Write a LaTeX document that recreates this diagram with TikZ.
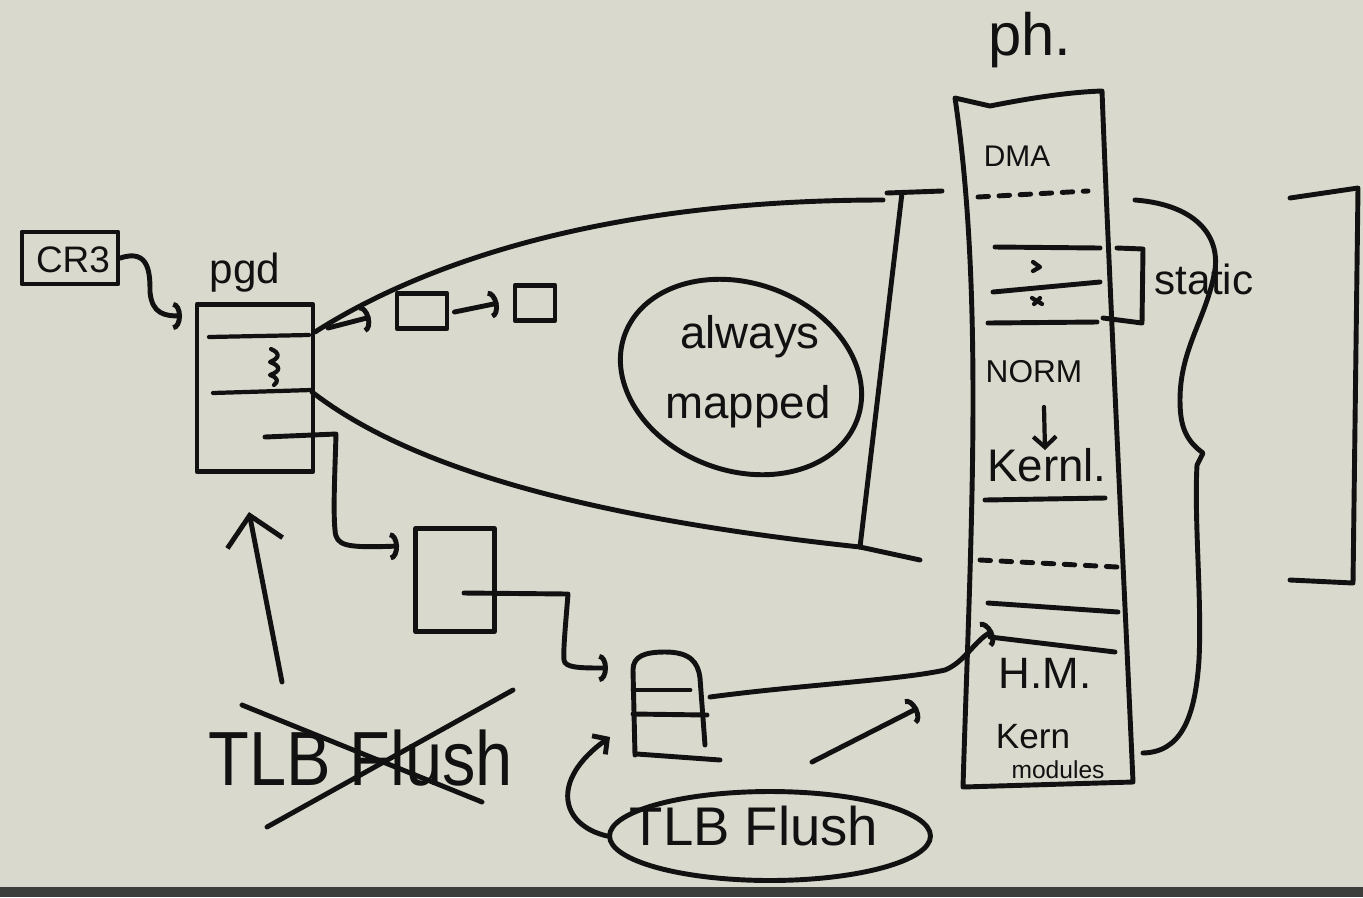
\documentclass[tikz,border=0pt]{standalone}
\usepackage{fontspec}
\setmainfont{Liberation Sans}
\usetikzlibrary{arrows.meta,shapes.geometric,calc}
\definecolor{bg}{HTML}{DAD9CE}
\definecolor{barc}{HTML}{3C3E3B}
\definecolor{ink}{HTML}{111111}
\newcommand{\hwsize}[1]{\fontsize{#1}{#1}\selectfont}
\begin{document}
\begin{tikzpicture}[x=0.02cm,y=-0.02cm,line cap=round,line join=round,
  ink/.style={draw=ink,line width=2.8pt},
  thin/.style={draw=ink,line width=2.4pt},
  hook/.style={-{Arc Barb[length=5pt,width=16pt]}},
  vee/.style={-{Straight Barb[length=16pt,width=32pt]}},
  smallvee/.style={-{Straight Barb[length=6pt,width=13pt]}},
  lbl/.style={inner sep=0pt,anchor=base,text=ink},
  boxnode/.style={draw=ink,line width=2.8pt,inner sep=0pt},
  dashline/.style={draw=ink,line width=2.8pt,dash pattern=on 6pt off 6pt}]
\fill[bg] (0,0) rectangle (1363,897);
\fill[barc] (0,887) rectangle (1363,897);
\useasboundingbox (0,0) rectangle (1363,897);

% ---------------- CR3 and pgd ----------------
\node[boxnode,minimum width=1.92cm,minimum height=1.04cm] (cr3) at (70,258) {};
\node[lbl,font=\hwsize{21}] (cr3t) at (73,272) {CR3};
\node[lbl,font=\hwsize{24}] (pgdt) at (245,283) {pgd};
\node[boxnode,minimum width=2.32cm,minimum height=3.34cm] (pgd) at (255,388) {};
\draw[thin] (209,337) -- (309,335);
\draw[thin] (213,393) -- (311,390);
\draw[thin] (271,349) .. controls (280,353) and (280,358) .. (270,362)
  .. controls (281,366) and (281,371) .. (270,375) .. controls (279,378) and (278,382) .. (274,385);
\coordinate (pgdin) at (182,316);
\draw[ink,hook] (cr3.east) .. controls (150,248) and (150,275) .. (150,292)
  .. controls (152,314) and (165,316) .. (pgdin);

% ---------------- chain of small tables ----------------
\node[boxnode,minimum width=1.0cm,minimum height=0.7cm] (c1) at (422,311) {};
\node[boxnode,minimum width=0.8cm,minimum height=0.7cm] (c2) at (535,303) {};
\coordinate (r1) at (328,328);
\draw[ink,hook] (r1) -- ($(c1.west)+(-24,6)$);
\draw[ink,hook] ($(c1.east)+(5,1)$) -- ($(c2.west)+(-14,0)$);

% ---------------- funnel ----------------
\coordinate (fa) at (883,200);
\coordinate (fb) at (860,547);
\draw[ink] (315,332) .. controls (420,265) and (600,200) .. (fa);
\draw[ink] (312,392) .. controls (400,460) and (560,515) .. (fb);
\draw[ink] (887,193) -- (942,191);
\draw[ink] (902,193) -- (fb);
\draw[ink] (fb) -- (920,560);

% ---------------- always mapped ----------------
\node[draw=ink,line width=2.8pt,ellipse,minimum width=4.95cm,minimum height=3.75cm,rotate=-20] (am) at (741,377) {};
\node[lbl,font=\hwsize{26}] (amt1) at (750,348) {always};
\node[lbl,font=\hwsize{26}] (amt2) at (748,418) {mapped};

% ---------------- second and third level ----------------
\node[boxnode,minimum width=1.58cm,minimum height=2.06cm] (b2) at (455,580) {};
\draw[ink,hook] (265,437) -- (336,434) .. controls (335,470) and (333,510) .. (335,530)
  .. controls (336,546) and (345,548) .. ($(b2.west)+(-14,-34)$);
\coordinate (b3) at (669,705);
\draw[ink] (635,755) -- (633,670) .. controls (633,656) and (645,652) .. (665,652)
  .. controls (690,652) and (698,662) .. (700,678) -- (705,745);
\draw[ink] (637,754) -- (720,760);
\draw[ink] (633,690) -- (690,690);
\draw[ink] (633,714) -- (707,715);
\draw[ink,hook] (464,593) -- (568,594) .. controls (566,620) and (563,650) .. (564,660)
  .. controls (565,668) and (580,668) .. ($(b3)+(-61,-37)$);

% ---------------- physical memory column ----------------
\node[lbl,font=\hwsize{34}] (ph) at (1030,55) {ph.};
\draw[ink] (955,98) -- (990,106) .. controls (1030,98) and (1070,92) .. (1102,91)
  .. controls (1110,300) and (1125,600) .. (1133,782) -- (963,787)
  .. controls (970,550) and (985,300) .. cycle;
\node[lbl,font=\hwsize{17}] (dma) at (1017,166) {DMA};
\draw[dashline] (978,197) -- (1088,191);
\draw[ink] (995,247) -- (1100,248);
\draw[ink] (993,292) -- (1100,282);
\draw[ink] (988,323) -- (1097,322);
\draw[thin] (1033,262) -- (1040,267) -- (1033,271);
\draw[thin] (1032,298) -- (1042,304);
\draw[thin] (1034,304) -- (1040,298);
\draw[ink] (1117,248) -- (1143,249) -- (1142,323) -- (1103,318);
\node[lbl,font=\hwsize{24}] (static) at (1204,294) {static};
\node[lbl,font=\hwsize{18}] (norm) at (1034,382) {NORM};
\node[lbl,font=\hwsize{26}] (kern) at (1047,481) {Kernl.};
\draw[thin,smallvee] (1044,407) -- (1045,450);
\draw[ink] (985,500) -- (1105,498);
\draw[dashline] (980,560) -- (1117,567);
\draw[ink] (988,603) -- (1118,612);
\draw[ink] (990,637) -- (1115,652);
\coordinate (hm) at (993,631);
\node[lbl,font=\hwsize{25}] (hmt) at (1045,688) {H.M.};
\node[lbl,font=\hwsize{20}] (kmod1) at (1033,748) {Kern};
\node[lbl,font=\hwsize{14}] (kmod2) at (1058,778) {modules};
\draw[ink,hook] ($(b3)+(41,-8)$) .. controls (800,685) and (900,680) .. (945,670)
  .. controls (965,662) and (975,640) .. (hm);

% braces on the right
\draw[ink] (1135,200) .. controls (1200,205) and (1222,240) .. (1214,275)
  .. controls (1205,320) and (1180,350) .. (1180,400)
  .. controls (1180,425) and (1185,440) .. (1203,453) -- (1197,465)
  .. controls (1194,520) and (1202,600) .. (1199,660)
  .. controls (1195,720) and (1180,752) .. (1143,753);
\draw[ink] (1290,198) -- (1358,188) -- (1353,583) -- (1290,580);

% ---------------- TLB flush ----------------
\coordinate (upa) at (282,682);
\coordinate (upb) at (249,512);
\draw[ink,vee] (upa) -- (upb);
\node[lbl,font=\hwsize{38},yscale=1.15] (tlbx) at (361,785) {TLB Flush};
\draw[ink] (242,705) -- (482,802);
\draw[ink] (513,690) -- (267,827);
\node[draw=ink,line width=2.8pt,ellipse,minimum width=6.42cm,minimum height=1.78cm] (tf) at (770,836) {};
\node[lbl,font=\hwsize{31}] (tft) at (754,845) {TLB Flush};
\draw[ink,smallvee] (tf.west) .. controls (560,825) and (550,780) .. ($(b3)+(-59,32)$);
\coordinate (fla) at (812,762);
\coordinate (flb) at (918,708);
\draw[ink,hook] (fla) -- (flb);
\end{tikzpicture}
\end{document}
